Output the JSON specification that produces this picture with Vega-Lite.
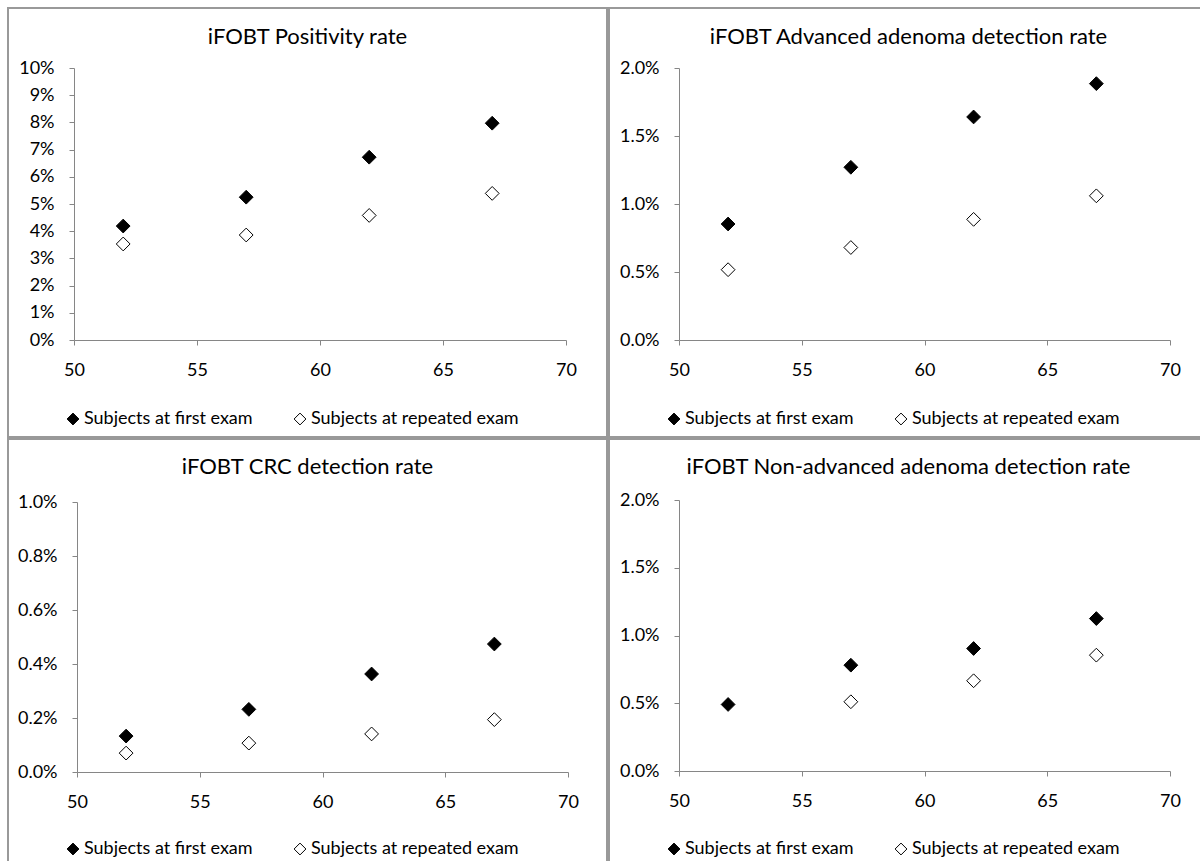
{
  "$schema": "https://vega.github.io/schema/vega-lite/v6.json",
  "padding": {"left": 7, "top": 7, "right": 0, "bottom": 0},
  "background": "white",
  "spacing": 0,
  "columns": 2,
  "resolve": {"scale": {"fill": "independent"}, "legend": {"fill": "independent"}},
  "datasets": {
    "d": [
      {"panel": "p1", "age": 52, "series": "Subjects at first exam", "rate": 0.0419},
      {"panel": "p1", "age": 57, "series": "Subjects at first exam", "rate": 0.0525},
      {"panel": "p1", "age": 62, "series": "Subjects at first exam", "rate": 0.0672},
      {"panel": "p1", "age": 67, "series": "Subjects at first exam", "rate": 0.0797},
      {"panel": "p1", "age": 52, "series": "Subjects at repeated exam", "rate": 0.0353},
      {"panel": "p1", "age": 57, "series": "Subjects at repeated exam", "rate": 0.0386},
      {"panel": "p1", "age": 62, "series": "Subjects at repeated exam", "rate": 0.0458},
      {"panel": "p1", "age": 67, "series": "Subjects at repeated exam", "rate": 0.0539},
      {"panel": "p2", "age": 52, "series": "Subjects at first exam", "rate": 0.00853},
      {"panel": "p2", "age": 57, "series": "Subjects at first exam", "rate": 0.0127},
      {"panel": "p2", "age": 62, "series": "Subjects at first exam", "rate": 0.0164},
      {"panel": "p2", "age": 67, "series": "Subjects at first exam", "rate": 0.01885},
      {"panel": "p2", "age": 52, "series": "Subjects at repeated exam", "rate": 0.00517},
      {"panel": "p2", "age": 57, "series": "Subjects at repeated exam", "rate": 0.0068},
      {"panel": "p2", "age": 62, "series": "Subjects at repeated exam", "rate": 0.00887},
      {"panel": "p2", "age": 67, "series": "Subjects at repeated exam", "rate": 0.0106},
      {"panel": "p3", "age": 52, "series": "Subjects at first exam", "rate": 0.00133},
      {"panel": "p3", "age": 57, "series": "Subjects at first exam", "rate": 0.00232},
      {"panel": "p3", "age": 62, "series": "Subjects at first exam", "rate": 0.00363},
      {"panel": "p3", "age": 67, "series": "Subjects at first exam", "rate": 0.00474},
      {"panel": "p3", "age": 52, "series": "Subjects at repeated exam", "rate": 0.0007},
      {"panel": "p3", "age": 57, "series": "Subjects at repeated exam", "rate": 0.00107},
      {"panel": "p3", "age": 62, "series": "Subjects at repeated exam", "rate": 0.00141},
      {"panel": "p3", "age": 67, "series": "Subjects at repeated exam", "rate": 0.00194},
      {"panel": "p4", "age": 52, "series": "Subjects at first exam", "rate": 0.00491},
      {"panel": "p4", "age": 57, "series": "Subjects at first exam", "rate": 0.00781},
      {"panel": "p4", "age": 62, "series": "Subjects at first exam", "rate": 0.00904},
      {"panel": "p4", "age": 67, "series": "Subjects at first exam", "rate": 0.01125},
      {"panel": "p4", "age": 57, "series": "Subjects at repeated exam", "rate": 0.00511},
      {"panel": "p4", "age": 62, "series": "Subjects at repeated exam", "rate": 0.00666},
      {"panel": "p4", "age": 67, "series": "Subjects at repeated exam", "rate": 0.00855}
    ]
  },
  "data": {"name": "d"},
  "concat": [
    {
      "width": 599, "height": 429,
      "title": {"text": "iFOBT Positivity rate", "offset": -41},
      "transform": [{"filter": "datum.panel == 'p1'"}],
      "mark": {"type": "point", "shape": "diamond", "filled": true, "size": 190, "stroke": "black", "strokeWidth": 1, "opacity": 1},
      "encoding": {
        "x": {"field": "age", "type": "quantitative", "title": null,
              "scale": {"domain": [50, 70], "range": [66, 558], "nice": false, "zero": false},
              "axis": {"values": [50, 55, 60, 65, 70], "offset": -97}},
        "y": {"field": "rate", "type": "quantitative", "title": null,
              "scale": {"domain": [0, 0.1], "range": [332, 60], "nice": false},
              "axis": {"values": [0, 0.01, 0.02, 0.03, 0.04, 0.05, 0.06, 0.07, 0.08, 0.09, 0.1], "format": ".0%", "offset": -66}},
        "fill": {"field": "series", "type": "nominal",
                 "scale": {"domain": ["Subjects at first exam", "Subjects at repeated exam"], "range": ["black", "white"]},
                 "legend": {"orient": "none", "legendX": 56, "legendY": 402, "direction": "horizontal", "title": null}}
      }
    },
    {
      "width": 599, "height": 429,
      "title": {"text": "iFOBT Advanced adenoma detection rate", "offset": -41},
      "transform": [{"filter": "datum.panel == 'p2'"}],
      "mark": {"type": "point", "shape": "diamond", "filled": true, "size": 190, "stroke": "black", "strokeWidth": 1, "opacity": 1},
      "encoding": {
        "x": {"field": "age", "type": "quantitative", "title": null,
              "scale": {"domain": [50, 70], "range": [70, 561], "nice": false, "zero": false},
              "axis": {"values": [50, 55, 60, 65, 70], "offset": -97}},
        "y": {"field": "rate", "type": "quantitative", "title": null,
              "scale": {"domain": [0, 0.02], "range": [332, 60], "nice": false},
              "axis": {"values": [0, 0.005, 0.01, 0.015, 0.02], "format": ".1%", "offset": -70}},
        "fill": {"field": "series", "type": "nominal",
                 "scale": {"domain": ["Subjects at first exam", "Subjects at repeated exam"], "range": ["black", "white"]},
                 "legend": {"orient": "none", "legendX": 56, "legendY": 402, "direction": "horizontal", "title": null}}
      }
    },
    {
      "width": 599, "height": 429,
      "title": {"text": "iFOBT CRC detection rate", "offset": -40},
      "transform": [{"filter": "datum.panel == 'p3'"}],
      "mark": {"type": "point", "shape": "diamond", "filled": true, "size": 190, "stroke": "black", "strokeWidth": 1, "opacity": 1},
      "encoding": {
        "x": {"field": "age", "type": "quantitative", "title": null,
              "scale": {"domain": [50, 70], "range": [69, 560], "nice": false, "zero": false},
              "axis": {"values": [50, 55, 60, 65, 70], "offset": -96}},
        "y": {"field": "rate", "type": "quantitative", "title": null,
              "scale": {"domain": [0, 0.01], "range": [333, 63], "nice": false},
              "axis": {"values": [0, 0.002, 0.004, 0.006, 0.008, 0.01], "format": ".1%", "offset": -69}},
        "fill": {"field": "series", "type": "nominal",
                 "scale": {"domain": ["Subjects at first exam", "Subjects at repeated exam"], "range": ["black", "white"]},
                 "legend": {"orient": "none", "legendX": 56, "legendY": 401, "direction": "horizontal", "title": null}}
      }
    },
    {
      "width": 599, "height": 429,
      "title": {"text": "iFOBT Non-advanced adenoma detection rate", "offset": -40},
      "transform": [{"filter": "datum.panel == 'p4'"}],
      "mark": {"type": "point", "shape": "diamond", "filled": true, "size": 190, "stroke": "black", "strokeWidth": 1, "opacity": 1},
      "encoding": {
        "x": {"field": "age", "type": "quantitative", "title": null,
              "scale": {"domain": [50, 70], "range": [70, 561], "nice": false, "zero": false},
              "axis": {"values": [50, 55, 60, 65, 70], "offset": -97}},
        "y": {"field": "rate", "type": "quantitative", "title": null,
              "scale": {"domain": [0, 0.02], "range": [332, 61], "nice": false},
              "axis": {"values": [0, 0.005, 0.01, 0.015, 0.02], "format": ".1%", "offset": -70}},
        "fill": {"field": "series", "type": "nominal",
                 "scale": {"domain": ["Subjects at first exam", "Subjects at repeated exam"], "range": ["black", "white"]},
                 "legend": {"orient": "none", "legendX": 56, "legendY": 401, "direction": "horizontal", "title": null}}
      }
    }
  ],
  "config": {
    "font": "Lato",
    "view": {"stroke": "#999999", "strokeWidth": 2, "fill": "white"},
    "title": {"font": "Lato", "fontSize": 22, "fontWeight": "normal", "color": "black", "anchor": "middle"},
    "axis": {
      "grid": false,
      "domainColor": "#868686", "domainWidth": 1,
      "tickColor": "#868686", "tickSize": 5, "tickWidth": 1,
      "labelColor": "black", "labelFont": "Lato", "labelFontSize": 18,
      "labelFlush": false, "labelOverlap": false
    },
    "axisX": {"labelPadding": 16},
    "axisY": {"labelPadding": 15},
    "legend": {
      "labelFont": "Lato", "labelFontSize": 18, "labelColor": "black",
      "symbolType": "diamond", "symbolSize": 140, "symbolStrokeColor": "black", "symbolStrokeWidth": 1,
      "symbolOpacity": 1, "columnPadding": 38, "labelOffset": 2, "labelLimit": 400
    }
  }
}
